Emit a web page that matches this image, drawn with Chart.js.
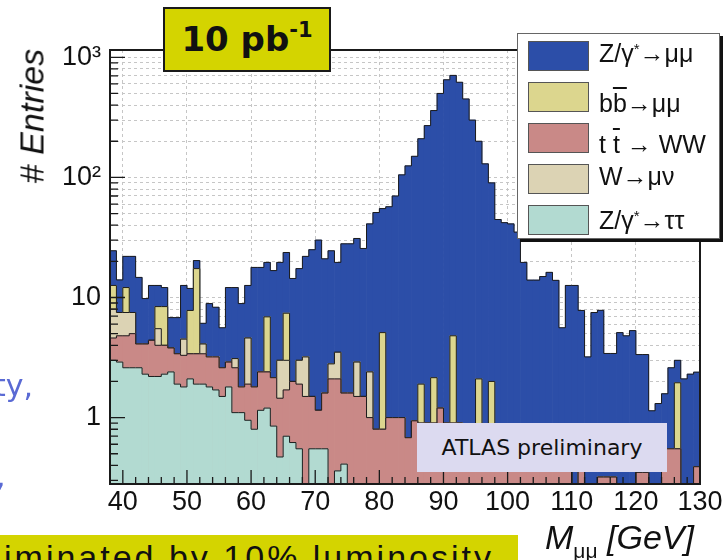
<!DOCTYPE html>
<html>
<head>
<meta charset="utf-8">
<script src="https://cdn.jsdelivr.net/npm/chart.js@4.4.1/dist/chart.umd.min.js"></script>
<style>
html,body{margin:0;padding:0;background:#fff;}
#wrap{position:relative;width:727px;height:560px;overflow:hidden;font-family:"Liberation Sans",Arial,sans-serif;color:#111;}
#c{position:absolute;left:0;top:0;}
.abs{position:absolute;white-space:nowrap;}
.sup{font-size:0.6em;position:relative;top:-0.55em;}
.ov{text-decoration:overline;}
</style>
</head>
<body>
<div id="wrap">
<canvas id="c" width="727" height="560"></canvas>

<div class="abs" style="left:-6px;top:368px;font:30px 'DejaVu Sans',sans-serif;color:#5a6ad4;">ty,</div>
<div class="abs" style="left:-4px;top:458px;font:30px 'DejaVu Sans',sans-serif;color:#5a6ad4;">,</div>

<div class="abs" style="left:0;top:535px;width:518px;height:25px;background:#d4d400;overflow:hidden;">
  <div class="abs" style="left:4px;top:5px;font:34px 'Liberation Sans',Arial,sans-serif;line-height:34px;letter-spacing:3px;color:#111;">iminated by 10% luminosity</div>
</div>

<div class="abs" style="left:32px;top:116px;font:34px 'Liberation Sans',Arial,sans-serif;transform:translate(-50%,-50%) rotate(-90deg);">#&nbsp;<i>Entries</i></div>

<div class="abs" style="left:545px;top:521px;font:34px 'Liberation Sans',Arial,sans-serif;line-height:32px;"><i>M</i><span style="font-size:21px;position:relative;top:9px;">μμ</span>&nbsp;<i>[GeV]</i></div>

<div class="abs" style="left:163px;top:7px;width:164px;height:61px;background:#d4d400;border:2px solid #1a1a1a;text-align:center;font:bold 34px 'DejaVu Sans',sans-serif;line-height:61px;color:#111;">10 pb<span style="font-size:21px;position:relative;top:-14px;">-1</span></div>

<div class="abs" style="left:417px;top:423px;width:250px;height:49px;background:#dcdaf0;text-align:center;font:22px 'DejaVu Sans',sans-serif;line-height:49px;color:#111;">ATLAS preliminary</div>

<div class="abs" id="legend" style="left:517px;top:33px;width:201px;height:204px;background:#fff;border:1px solid #666;box-shadow:3px 3px 0 #111;"></div>
</div>

<script>
// Bin centres of M_mumu (GeV), 1 GeV bins from 38 to 130
const massBins = [
 38.5,39.5,40.5,41.5,42.5,43.5,44.5,45.5,46.5,47.5,
 48.5,49.5,50.5,51.5,52.5,53.5,54.5,55.5,56.5,57.5,
 58.5,59.5,60.5,61.5,62.5,63.5,64.5,65.5,66.5,67.5,
 68.5,69.5,70.5,71.5,72.5,73.5,74.5,75.5,76.5,77.5,
 78.5,79.5,80.5,81.5,82.5,83.5,84.5,85.5,86.5,87.5,
 88.5,89.5,90.5,91.5,92.5,93.5,94.5,95.5,96.5,97.5,
 98.5,99.5,100.5,101.5,102.5,103.5,104.5,105.5,106.5,107.5,
 108.5,109.5,110.5,111.5,112.5,113.5,114.5,115.5,116.5,117.5,
 118.5,119.5,120.5,121.5,122.5,123.5,124.5,125.5,126.5,127.5,
 128.5,129.5
];

// Z/gamma* -> tau tau
const zTauTau = [
 3.0,2.9,2.6,2.6,2.6,2.3,2.2,2.2,2.3,2.4,
 1.9,1.8,2.1,1.9,1.9,1.8,1.7,1.5,1.8,1.1,
 1.1,0.95,0.8,1.15,1.2,0.85,0.47,0.7,0.62,0.55,
 0,0.55,0.55,0.55,0,0.36,0.41,0,0,0,
 0,0,0,0,0,0,0,0,0,0,
 0,0,0,0,0,0,0,0,0,0,
 0,0,0,0,0,0,0,0,0,0,
 0,0,0,0,0,0,0,0,0,0,
 0,0,0,0,0,0,0,0,0,0,
 0,0
];
// t tbar -> WW
const ttbarWW = [
 1.6,1.9,2.2,2.4,1.5,1.8,2.2,1.8,1.7,1.4,
 1.5,1.5,1.3,1.5,1.5,1.4,1.5,1.1,1.1,1.5,
 0.7,0.95,1.0,1.25,1.2,1.3,0.98,1.0,1.38,1.35,
 1.5,0.95,0.6,1.05,2.1,1.74,1.19,1.6,1.5,1.5,
 1.0,0.8,0.8,1.0,1.0,1.0,0.68,0.94,0.9,0.9,
 0.9,1.2,0.9,0.9,0.9,0.8,0.8,0.8,0.7,0.7,
 0.6,0.6,0.5,0.5,0.5,0.45,0.45,0.45,0.4,0.4,
 0.4,0.4,0,0.4,0,0,0.32,0.32,0.32,0,
 0,0,0.35,0.35,0,0,0.55,0.55,0.55,0,
 0,0.39
];
// W -> mu nu
const wMuNu = [
 3.4,2.7,2.7,2.5,0,0,0,1.5,0,0,
 0,1.2,0,0,0.7,0,0,0,0,0.5,
 0,2.7,0,0,0,0,1.55,1.3,0,1.1,
 1.7,0,0,0,0.7,1.4,0,0,1.4,0,
 1.4,0,0,0,0,0,0,0,0,0,
 0,0,0,0,0,0,0,0,0,0,
 0,0,0,0,0,0,0,0,0,0,
 0,0,0,0,0,0,0,0,0,0,
 0,0,0,0,0,0,0,0,0,0,
 0,0
];
// b bbar -> mu mu
const bbMuMu = [
 4.6,0,4.6,0,0,0,0,2.9,4.4,0,
 0,0,4.4,14.0,0,0,0,0,0,0,
 0,0,0,0,4.5,0,0,4.4,0,0,
 0,0,0,0,0,0,0,0,0,0,
 0,0,4.3,0,0,0,0,0,1.0,0,
 1.25,0,0,3.9,0,0,0,1.3,0,1.3,
 0,0,0,0,0,0,0,0,0,0,
 0,0,0,0,0,0,0,0,0,0,
 0,0,0,0,0,0,0,0,1.4,0,
 0,0
];
// Z/gamma* -> mu mu
const zMuMu = [
 11.9,6.5,9.9,14.5,10.6,5.7,8.2,4.2,3.7,3.0,
 3.4,8.1,4.1,2.9,2.0,5.7,5.1,3.0,9.2,9.0,
 7.1,8.0,16.0,15.4,12.7,14.6,16.6,16.3,12.4,14.4,
 18.8,23.5,28.9,19.4,21.7,16.1,26.4,26.4,28.1,24.1,
 38.6,50.2,49.9,56,69,104,124,149,208,269,
 358,499,649,702,619,449,299,198,129,88,
 44,41.4,40.5,34.5,19.1,13.5,13.5,14.5,15.8,13.5,
 5.2,12.2,12.6,7.4,3.2,7.5,7.5,3.1,3.1,5.1,
 4.8,5.3,3.0,3.0,1.14,1.31,1.03,2.05,1.05,2.1,
 2.3,2.0
];

const xTickValues = [40,50,60,70,80,90,100,110,120,130];
const yTickLabels = {1:'1', 10:'10', 100:'10\u00B2', 1000:'10\u00B3'};

// stacking order bottom -> top
const seriesData   = [zTauTau, ttbarWW, wMuNu, bbMuMu, zMuMu];
const seriesNames  = ['Z/\u03B3*\u2192\u03C4\u03C4','t t\u0304 \u2192 WW','W\u2192\u03BC\u03BD','bb\u0304\u2192\u03BC\u03BC','Z/\u03B3*\u2192\u03BC\u03BC'];
const seriesColors = ['#b2dad1','#c98987','#dcd3b4','#dcd68e','#2c4ea8'];

// cumulative tops of the stack (each layer drawn from the axis, top layer first, like THStack)
const cumul = [];
let run = massBins.map(() => 0);
seriesData.forEach(arr => { run = run.map((v, i) => v + arr[i]); cumul.push(run.slice()); });

const datasets = seriesData.map((arr, k) => ({
  type: 'bar',
  label: seriesNames[k],
  data: massBins.map((m, i) => ({x: m, y: cumul[k][i] > 0 ? cumul[k][i] : null})),
  backgroundColor: seriesColors[k],
  borderWidth: 0,
  grouped: false,
  barPercentage: 1,
  categoryPercentage: 1
}));

const outlinePlugin = {
  id: 'outline',
  afterDatasetDraw(chart, args) {
    const vals = cumul[args.index];
    const {ctx, chartArea: a} = chart;
    const xs = chart.scales.x, ys = chart.scales.y;
    const floor = a.bottom + 2;
    const py = v => v > 0 ? Math.min(ys.getPixelForValue(v), floor) : floor;
    ctx.save();
    ctx.beginPath(); ctx.rect(a.left, a.top, a.right - a.left, a.bottom - a.top); ctx.clip();
    ctx.beginPath();
    ctx.moveTo(xs.getPixelForValue(massBins[0] - 0.5), floor);
    massBins.forEach((m, i) => {
      const yy = py(vals[i]);
      ctx.lineTo(xs.getPixelForValue(m - 0.5), yy);
      ctx.lineTo(xs.getPixelForValue(m + 0.5), yy);
    });
    ctx.lineTo(xs.getPixelForValue(massBins[massBins.length - 1] + 0.5), floor);
    ctx.strokeStyle = '#1c1c1c'; ctx.lineWidth = 1; ctx.stroke();
    ctx.restore();
  }
};

const framePlugin = {
  id: 'frame',
  afterDraw(chart) {
    const {ctx, chartArea: a} = chart;
    const xs = chart.scales.x, ys = chart.scales.y;
    ctx.save();
    ctx.strokeStyle = '#1a1a1a';
    ctx.lineWidth = 1.3;
    ctx.beginPath();
    for (let e = -1; e <= 3; e++) {
      for (let d = 1; d <= 9; d++) {
        const v = d * Math.pow(10, e);
        if (v < ys.min || v > ys.max) continue;
        const y = ys.getPixelForValue(v);
        const len = d === 1 ? 15 : 8;
        ctx.moveTo(a.left, y); ctx.lineTo(a.left + len, y);
      }
    }
    for (let v = 38; v <= 130; v += 2) {
      const x = xs.getPixelForValue(v);
      const len = v % 10 === 0 ? 14 : 7;
      ctx.moveTo(x, a.bottom); ctx.lineTo(x, a.bottom - len);
    }
    ctx.stroke();
    ctx.lineWidth = 2;
    ctx.strokeRect(a.left, a.top, a.right - a.left, a.bottom - a.top);
    ctx.restore();
  }
};

Chart.defaults.font.family = "'Liberation Sans', Arial, sans-serif";

new Chart(document.getElementById('c'), {
  type: 'bar',
  data: {datasets},
  options: {
    responsive: false,
    animation: false,
    events: [],
    layout: {padding: {left: 0, right: 27, top: 50, bottom: 0}},
    plugins: {legend: {display: false}, tooltip: {enabled: false}},
    scales: {
      x: {
        type: 'linear', min: 38, max: 130, offset: false, stacked: false,
        grid: {offset: false, color: '#c6c6c6', lineWidth: 1, drawTicks: false},
        border: {display: false, dash: [3, 3]},
        afterBuildTicks: ax => { ax.ticks = xTickValues.map(v => ({value: v})); },
        afterFit: sc => { sc.height = 76; },
        ticks: {autoSkip: false, maxRotation: 0, padding: 2, color: '#111',
                font: {size: 27}, callback: v => String(v)}
      },
      y: {
        type: 'logarithmic', min: 0.28, max: 1150, stacked: false,
        grid: {color: '#c6c6c6', lineWidth: 1, drawTicks: false},
        border: {display: false, dash: [3, 3]},
        afterBuildTicks: ax => {
          const t = [];
          for (let e = -1; e <= 3; e++) for (let d = 1; d <= 9; d++) {
            const v = d * Math.pow(10, e);
            if (v >= ax.min && v <= ax.max) t.push({value: v});
          }
          ax.ticks = t;
        },
        afterFit: sc => { sc.width = 110; },
        ticks: {autoSkip: false, padding: 9, color: '#111', font: {size: 27},
                callback: v => yTickLabels[Math.round(v * 1000) / 1000] || ''}
      }
    }
  },
  plugins: [outlinePlugin, framePlugin]
});

const legendHtml = [
  'Z/\u03B3<span class="sup">*</span>\u2192\u03BC\u03BC',
  'b<span class="ov">b</span>\u2192\u03BC\u03BC',
  't <span class="ov">t</span> \u2192 WW',
  'W\u2192\u03BC\u03BD',
  'Z/\u03B3<span class="sup">*</span>\u2192\u03C4\u03C4'
];
const legendOrder = [4, 3, 1, 2, 0];
const swTop = [41, 82, 123, 164, 205];
const txtCenter = [53, 103, 144, 176, 220];
const wrap = document.getElementById('wrap');
legendOrder.forEach((k, j) => {
  const sw = document.createElement('div');
  sw.className = 'abs';
  sw.style.cssText = `left:528px;top:${swTop[j]}px;width:59px;height:28px;background:${seriesColors[k]};border:1px solid #555;`;
  wrap.appendChild(sw);
  const tx = document.createElement('div');
  tx.className = 'abs';
  tx.style.cssText = `left:599px;top:${txtCenter[j] - 14}px;font:25px 'Liberation Sans',Arial,sans-serif;line-height:28px;color:#111;`;
  tx.innerHTML = legendHtml[j];
  wrap.appendChild(tx);
});
</script>
</body>
</html>
